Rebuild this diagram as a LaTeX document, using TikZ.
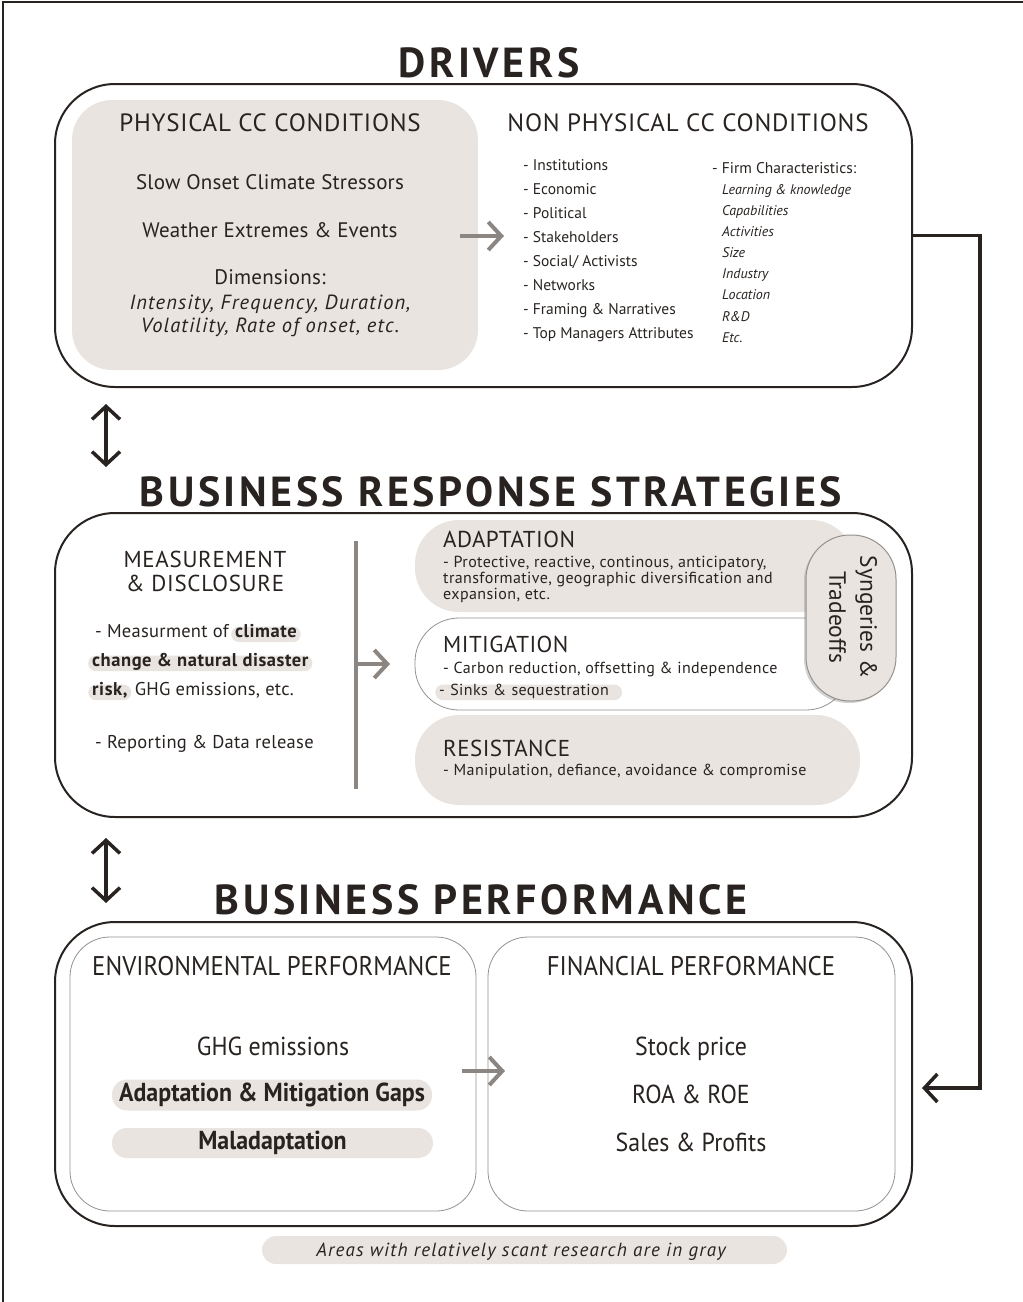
\documentclass[tikz,border=0pt]{standalone}
\usepackage{fontspec}
\setmainfont{PT Sans}
\newfontfamily\condfont[FakeStretch=0.92]{PT Sans}
\usetikzlibrary{arrows.meta,shadows}
\definecolor{ink}{RGB}{40,35,32}
\definecolor{shade}{RGB}{233,228,223}
\definecolor{arrowgray}{RGB}{140,134,130}
\definecolor{edgegray}{RGB}{150,145,140}
\newcommand{\titlefont}{\fontsize{42}{42}\selectfont\bfseries\addfontfeatures{LetterSpace=8.5}}
\newcommand{\headfont}{\fontsize{25}{27}\selectfont\addfontfeatures{LetterSpace=3}}
\newcommand{\mfont}{\fontsize{18.5}{20}\selectfont\addfontfeatures{LetterSpace=1.5}}
\newcommand{\mbfont}{\fontsize{18.5}{20}\selectfont\bfseries\addfontfeatures{LetterSpace=3}}
\newcommand{\sfont}{\fontsize{16}{16}\selectfont\addfontfeatures{LetterSpace=2.5}}
\begin{document}
\begin{tikzpicture}[x=1pt,y=-1pt,
  every node/.style={text=ink, inner sep=0pt},
  frame/.style={draw=ink, line width=2pt, rounded corners=60pt},
  panel/.style={fill=shade, rounded corners=40pt},
  subpanel/.style={draw=edgegray, line width=0.8pt, fill=white, rounded corners=40pt},
  pill/.style={fill=shade, rounded corners=15pt},
  hl/.style={fill=shade, rounded corners=8pt, inner xsep=4pt, inner ysep=3pt, text height=0.75em, text depth=0.22em},
  blackarrow/.style={draw=ink, line width=3.5pt, -{Straight Barb[length=13pt,width=28pt]}},
  dblarrow/.style={draw=ink, line width=3.5pt, {Straight Barb[length=13pt,width=28pt]}-{Straight Barb[length=13pt,width=28pt]}},
  grayarrow/.style={draw=arrowgray, line width=4pt, -{Straight Barb[length=13pt,width=28pt]}},
  body/.style={font=\fontsize{21}{24}\selectfont\addfontfeatures{LetterSpace=1}, anchor=base},
  ibody/.style={font=\fontsize{20.5}{24}\selectfont\itshape\addfontfeatures{LetterSpace=5.5}, anchor=base},
  list/.style={font=\fontsize{15.5}{17}\selectfont, anchor=base west},
  ilist/.style={font=\fontsize{14}{16}\selectfont\itshape, anchor=base west},
  stext/.style={font=\sfont, anchor=base west},
  shead/.style={font=\fontsize{23}{24}\selectfont\addfontfeatures{LetterSpace=2}, anchor=base west},
  ptext/.style={font=\condfont\fontsize{26}{28}\selectfont, anchor=base},
  phead/.style={font=\condfont\fontsize{27}{28}\selectfont, anchor=base},
]
\useasboundingbox (0,0) rectangle (1023,1302);

% page frame
\draw[ink, line width=1.5pt] (3,1302) -- (3,2) -- (1023,2);

% ---------------- DRIVERS ----------------
\node[font=\titlefont, anchor=base] (tdrv) at (489,77) {DRIVERS};
\node[frame, minimum width=857pt, minimum height=303pt] (drivers) at (483.5,235.5) {};
\node[panel, minimum width=406pt, minimum height=270pt] (phys) at (275,235) {};
\node[font=\headfont, anchor=base] (physhd) at (270,131) {PHYSICAL CC CONDITIONS};
\node[body] (slow) at (270,189) {Slow Onset Climate Stressors};
\node[body] (weather) at (270,237) {Weather Extremes \& Events};
\node[body] (dims) at (270,284) {Dimensions:};
\node[ibody] (dims1) at (270,309) {Intensity, Frequency, Duration,};
\node[ibody] (dims2) at (270,332) {Volatility, Rate of onset, etc.};

\node[font=\headfont, anchor=base] (nphyshd) at (688,131) {NON PHYSICAL CC CONDITIONS};
\node[list] (n1) at (523,170) {- Institutions};
\node[list] (n2) at (523,194) {- Economic};
\node[list] (n3) at (523,218) {- Political};
\node[list] (n4) at (523,242) {- Stakeholders};
\node[list] (n5) at (523,266) {- Social/ Activists};
\node[list] (n6) at (523,290) {- Networks};
\node[list] (n7) at (523,314) {- Framing \& Narratives};
\node[list] (n8) at (523,338) {- Top Managers Attributes};
\node[list] (f0) at (712,173) {- Firm Characteristics:};
\node[ilist] (f1) at (722,194) {Learning \& knowledge};
\node[ilist] (f2) at (722,215) {Capabilities};
\node[ilist] (f3) at (722,236) {Activities};
\node[ilist] (f4) at (722,257) {Size};
\node[ilist] (f5) at (722,278) {Industry};
\node[ilist] (f6) at (722,299) {Location};
\node[ilist] (f7) at (722,321) {R\&D};
\node[ilist] (f8) at (722,342) {Etc.};

\coordinate (pa1) at (460,236);
\coordinate (pa2) at (504,236);
\draw[grayarrow] (pa1) -- (pa2);

% link between drivers and strategies
\coordinate (d1a) at (106,404);
\coordinate (d1b) at (106,467);
\draw[dblarrow] (d1a) -- (d1b);

% ---------------- BUSINESS RESPONSE STRATEGIES ----------------
\node[font=\titlefont, anchor=base] (tbrs) at (491,506) {BUSINESS RESPONSE STRATEGIES};
\node[frame, minimum width=857pt, minimum height=304pt] (brs) at (483.5,665) {};

\node[font=\fontsize{23}{27}\selectfont\addfontfeatures{LetterSpace=3}, anchor=base] (meas1) at (205,567) {MEASUREMENT};
\node[font=\fontsize{23}{27}\selectfont\addfontfeatures{LetterSpace=3}, anchor=base] (meas2) at (205,591) {\& DISCLOSURE};
\node[font=\mfont, anchor=base west] (m1) at (95,637) {- Measurment of};
\node[hl, anchor=base west, font=\mbfont] (m1h) at ([xshift=2pt]m1.base east) {climate};
\node[hl, anchor=base west, font=\mbfont] (m2) at (88,666) {change \& natural disaster};
\node[hl, anchor=base west, font=\mbfont] (m3) at (88,695) {risk,};
\node[font=\mfont, anchor=base west] (m3b) at ([xshift=3pt]m3.base east) {GHG emissions, etc.};
\node[font=\mfont, anchor=base west] (m4) at (95,748) {- Reporting \& Data release};

\coordinate (vtop) at (356,541);
\coordinate (vbot) at (356,789);
\draw[arrowgray, line width=4pt] (vtop) -- (vbot);
\coordinate (ma1) at (356,664);
\coordinate (ma2) at (390,664);
\draw[grayarrow] (ma1) -- (ma2);

\node[fill=shade, rounded corners=44pt, minimum width=440pt, minimum height=92pt] (adapt) at (635,566) {};
\node[subpanel, rounded corners=44pt, minimum width=435pt, minimum height=92pt] (mitig) at (632.5,664) {};
\node[fill=shade, rounded corners=44pt, minimum width=445pt, minimum height=90pt] (resist) at (637.5,760) {};

\node[shead] (adapthd) at (443,547) {ADAPTATION};
\node[stext] (adapt1) at (443,567) {- Protective, reactive, continous, anticipatory,};
\node[stext] (adapt2) at (443,583) {transformative, geographic diversification and};
\node[stext] (adapt3) at (443,599) {expansion, etc.};
\node[shead] (mitighd) at (443,652) {MITIGATION};
\node[stext] (mitigtx) at (443,673) {- Carbon reduction, offsetting \& independence};
\node[hl, anchor=base west, font=\sfont, text width=179pt, align=left] (sinks) at (435,695) {- Sinks \& sequestration};
\node[shead] (resisthd) at (443,756) {RESISTANCE};
\node[stext] (resisttx) at (443,775) {- Manipulation, defiance, avoidance \& compromise};

\node[fill=shade, draw=edgegray, line width=1pt, rounded corners=44pt, minimum width=90pt, minimum height=166pt,
      drop shadow={shadow xshift=-2pt, shadow yshift=-2pt, opacity=0.35}] (syn) at (851,618) {};
\node[rotate=-90, align=center, font=\fontsize{23.5}{31}\selectfont] (syntx) at (853,617) {Syngeries \&\\Tradeoffs};

% link between strategies and performance
\coordinate (d2a) at (106,838);
\coordinate (d2b) at (106,903);
\draw[dblarrow] (d2a) -- (d2b);

% ---------------- BUSINESS PERFORMANCE ----------------
\node[font=\titlefont, anchor=base] (tbp) at (481,914) {BUSINESS PERFORMANCE};
\node[frame, minimum width=857pt, minimum height=304pt] (perf) at (483.5,1074) {};
\node[subpanel, minimum width=406pt, minimum height=274pt] (env) at (273,1074) {};
\node[subpanel, minimum width=407pt, minimum height=274pt] (fin) at (691.5,1074) {};

\node[phead] (envhd) at (272,975) {ENVIRONMENTAL PERFORMANCE};
\node[ptext] (ghg) at (273,1055) {GHG emissions};
\node[pill, minimum width=320pt, minimum height=31pt, font=\condfont\fontsize{26}{28}\selectfont\bfseries] (gaps) at (272,1095) {Adaptation \& Mitigation Gaps};
\node[pill, minimum width=321pt, minimum height=30pt, font=\condfont\fontsize{26}{28}\selectfont\bfseries] (malad) at (272.5,1143) {Maladaptation};

\node[phead] (finhd) at (691,975) {FINANCIAL PERFORMANCE};
\node[ptext] (stock) at (691,1055) {Stock price};
\node[ptext] (roa) at (691,1103) {ROA \& ROE};
\node[ptext] (sales) at (691,1151) {Sales \& Profits};

\coordinate (ba1) at (462,1071);
\coordinate (ba2) at (505,1071);
\draw[grayarrow] (ba1) -- (ba2);

% feedback from drivers to performance
\coordinate (rt) at (980,235.5);
\coordinate (rb) at (980,1088);
\draw[blackarrow, line join=miter] (drivers.east) -- (rt) -- (rb) -- ([xshift=9pt]perf.east |- rb);

% note
\node[pill, rounded corners=14pt, minimum width=525pt, minimum height=28pt] (note) at (524.5,1250) {};
\node[font=\fontsize{19}{20}\selectfont\itshape\addfontfeatures{LetterSpace=6.5}, anchor=base] (notetx) at (521,1256) {Areas with relatively scant research are in gray};
\end{tikzpicture}
\end{document}
